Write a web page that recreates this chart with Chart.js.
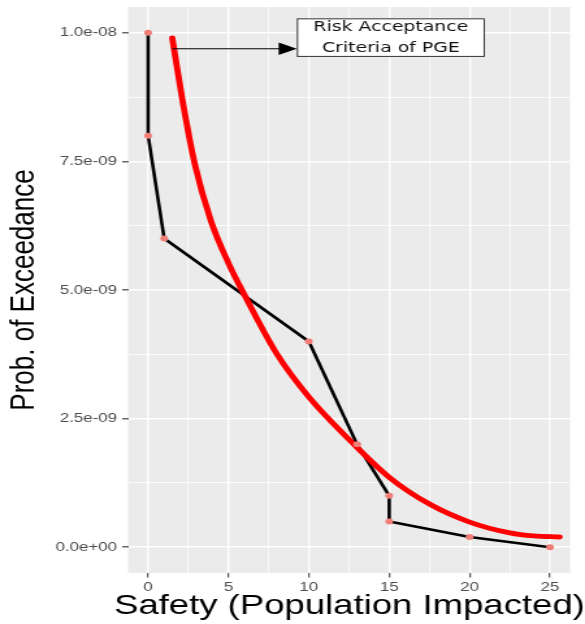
<!DOCTYPE html>
<html>
<head>
<meta charset="utf-8">
<script src="https://cdn.jsdelivr.net/npm/chart.js@4.4.1/dist/chart.umd.min.js"></script>
<style>
  html, body { margin: 0; padding: 0; background: #ffffff; overflow: hidden; }
  #wrap { width: 450px; height: 624px; transform: scaleX(1.3); transform-origin: 0 0; }
  canvas { display: block; }
</style>
</head>
<body>
<div id="wrap"><canvas id="chart" width="450" height="624"></canvas></div>
<script>
// Observed exceedance curve (population impacted vs. probability of exceedance)
const safetyX = [0, 0, 1, 10, 13, 15, 15, 20, 25];
const exceedY = [1.0e-8, 8.0e-9, 6.0e-9, 4.0e-9, 2.0e-9, 1.0e-9, 0.5e-9, 0.2e-9, 0.0];

// Risk acceptance criteria curve
const criteriaX = [1.5, 2.1, 2.9, 3.9, 5.0, 6.0, 8.0, 10.0, 13.0, 15.0, 17.5, 20.0, 22.5, 24.0, 25.6];
const criteriaY = [9.9e-9, 8.75e-9, 7.45e-9, 6.35e-9, 5.52e-9, 4.9e-9, 3.76e-9, 2.92e-9, 1.94e-9, 1.36e-9, 0.84e-9, 0.49e-9, 0.28e-9, 0.22e-9, 0.2e-9];

// Axis breaks
const xMajor = [0, 5, 10, 15, 20, 25];
const xMajorLabels = ['0', '5', '10', '15', '20', '25'];
const xMinor = [2.5, 7.5, 12.5, 17.5, 22.5];
const yMajor = [0, 2.5e-9, 5.0e-9, 7.5e-9, 1.0e-8];
const yMajorLabels = ['0.0e+00', '2.5e-09', '5.0e-09', '7.5e-09', '1.0e-08'];
const yMinor = [1.25e-9, 3.75e-9, 6.25e-9, 8.75e-9];

// Titles and annotation text
const xTitle = 'Safety (Population Impacted)';
const yTitle = 'Prob. of Exceedance';
const noteLines = ['Risk Acceptance', 'Criteria of PGE'];

const pts = (xs, ys) => xs.map((x, i) => ({ x: x, y: ys[i] }));
const near = (a, b, tol) => Math.abs(a - b) < tol;

function labelFor(value, majors, labels, tol) {
  const i = majors.findIndex(m => near(m, value, tol));
  return i >= 0 ? labels[i] : '';
}
function isMajor(value, majors, tol) {
  return majors.some(m => near(m, value, tol));
}
function noEdgePadding(scale) {
  scale.paddingTop = 0;
  scale.paddingBottom = 0;
  scale.paddingLeft = 0;
  scale.paddingRight = 0;
}

const panelPlugin = {
  id: 'panel',
  beforeDraw(chart) {
    const { ctx, chartArea: a } = chart;
    ctx.save();
    ctx.fillStyle = '#ffffff';
    ctx.fillRect(0, 0, chart.width, chart.height);
    ctx.fillStyle = '#EBEBEB';
    ctx.fillRect(a.left, a.top, a.right - a.left, a.bottom - a.top);
    ctx.restore();
  }
};

// x-axis title, wider than the panel, so drawn without a width limit
const xTitlePlugin = {
  id: 'xTitle',
  afterDraw(chart) {
    const { ctx } = chart;
    ctx.save();
    ctx.fillStyle = '#000000';
    ctx.font = '28.1px "Liberation Sans"';
    ctx.textAlign = 'center';
    ctx.textBaseline = 'middle';
    ctx.fillText(xTitle, 268.8, 606.2);
    ctx.restore();
  }
};

const notePlugin = {
  id: 'note',
  afterDraw(chart) {
    const { ctx, scales: { x, y } } = chart;
    const left = x.getPixelForValue(9.25);
    const right = x.getPixelForValue(20.95);
    const top = y.getPixelForValue(10.28e-9);
    const bottom = y.getPixelForValue(9.53e-9);
    const ay = y.getPixelForValue(9.69e-9);
    const ax = x.getPixelForValue(1.5);
    ctx.save();
    // arrow from the criteria curve to the label box
    ctx.strokeStyle = '#000000';
    ctx.lineWidth = 1.1;
    ctx.beginPath();
    ctx.moveTo(ax, ay);
    ctx.lineTo(left - 12, ay);
    ctx.stroke();
    ctx.fillStyle = '#000000';
    ctx.beginPath();
    ctx.moveTo(left, ay);
    ctx.lineTo(left - 14, ay - 6.3);
    ctx.lineTo(left - 14, ay + 6.3);
    ctx.closePath();
    ctx.fill();
    // label box
    ctx.fillStyle = '#ffffff';
    ctx.fillRect(left, top, right - left, bottom - top);
    ctx.strokeStyle = '#333333';
    ctx.lineWidth = 1;
    ctx.strokeRect(left + 0.5, top + 0.5, right - left - 1, bottom - top - 1);
    ctx.fillStyle = '#111111';
    ctx.font = '14.5px "DejaVu Sans"';
    ctx.textAlign = 'center';
    ctx.textBaseline = 'middle';
    const cx = (left + right) / 2;
    const cy = (top + bottom) / 2;
    ctx.fillText(noteLines[0], cx, cy - 10.8);
    ctx.fillText(noteLines[1], cx, cy + 10.6);
    ctx.restore();
  }
};

const tickFont = { family: 'Liberation Sans', size: 13 };

new Chart(document.getElementById('chart'), {
  type: 'line',
  data: {
    datasets: [
      {
        data: pts(safetyX, exceedY),
        showLine: false,
        pointRadius: 3,
        pointHoverRadius: 3,
        pointBackgroundColor: '#F07E76',
        pointBorderWidth: 0,
        order: 0
      },
      {
        data: pts(criteriaX, criteriaY),
        borderColor: '#FF0000',
        borderWidth: 4.8,
        borderCapStyle: 'round',
        cubicInterpolationMode: 'monotone',
        pointRadius: 0,
        fill: false,
        order: 1
      },
      {
        data: pts(safetyX, exceedY),
        borderColor: '#000000',
        borderWidth: 2.6,
        borderJoinStyle: 'round',
        tension: 0,
        pointRadius: 0,
        fill: false,
        order: 2
      }
    ]
  },
  options: {
    responsive: false,
    animation: false,
    events: [],
    layout: { padding: { top: 7, right: 11.5, left: 0, bottom: 0 } },
    plugins: { legend: { display: false }, tooltip: { enabled: false } },
    scales: {
      x: {
        type: 'linear',
        min: -1.25,
        max: 26.25,
        afterBuildTicks(scale) {
          scale.ticks = xMajor.concat(xMinor).sort((a, b) => a - b).map(v => ({ value: v }));
        },
        afterFit(scale) { scale.height = 51; noEdgePadding(scale); },
        border: { display: false },
        grid: {
          color: '#ffffff',
          lineWidth: c => (c.tick && isMajor(c.tick.value, xMajor, 1e-6)) ? 1.4 : 0.7,
          drawTicks: true,
          tickLength: 4.5,
          tickWidth: 1,
          tickColor: c => (c.tick && isMajor(c.tick.value, xMajor, 1e-6)) ? '#333333' : 'rgba(0,0,0,0)'
        },
        ticks: {
          autoSkip: false,
          maxRotation: 0,
          padding: 2,
          color: '#4D4D4D',
          font: tickFont,
          callback: v => labelFor(v, xMajor, xMajorLabels, 1e-6)
        },
        title: { display: false }
      },
      y: {
        type: 'linear',
        min: -0.5e-9,
        max: 10.5e-9,
        afterBuildTicks(scale) {
          scale.ticks = yMajor.concat(yMinor).sort((a, b) => a - b).map(v => ({ value: v }));
        },
        afterFit(scale) { scale.width = 98.5; noEdgePadding(scale); },
        border: { display: false },
        grid: {
          color: '#ffffff',
          lineWidth: c => (c.tick && isMajor(c.tick.value, yMajor, 1e-13)) ? 1.6 : 0.8,
          drawTicks: true,
          tickLength: 4.5,
          tickWidth: 1.1,
          tickColor: c => (c.tick && isMajor(c.tick.value, yMajor, 1e-13)) ? '#333333' : 'rgba(0,0,0,0)'
        },
        ticks: {
          autoSkip: false,
          padding: 4,
          color: '#4D4D4D',
          font: tickFont,
          callback: v => labelFor(v, yMajor, yMajorLabels, 1e-13)
        },
        title: {
          display: true,
          text: yTitle,
          color: '#000000',
          font: { family: 'Liberation Sans', size: 26, lineHeight: 1.2 },
          padding: { top: 3, bottom: 0 }
        }
      }
    }
  },
  plugins: [panelPlugin, xTitlePlugin, notePlugin]
});
</script>
</body>
</html>
